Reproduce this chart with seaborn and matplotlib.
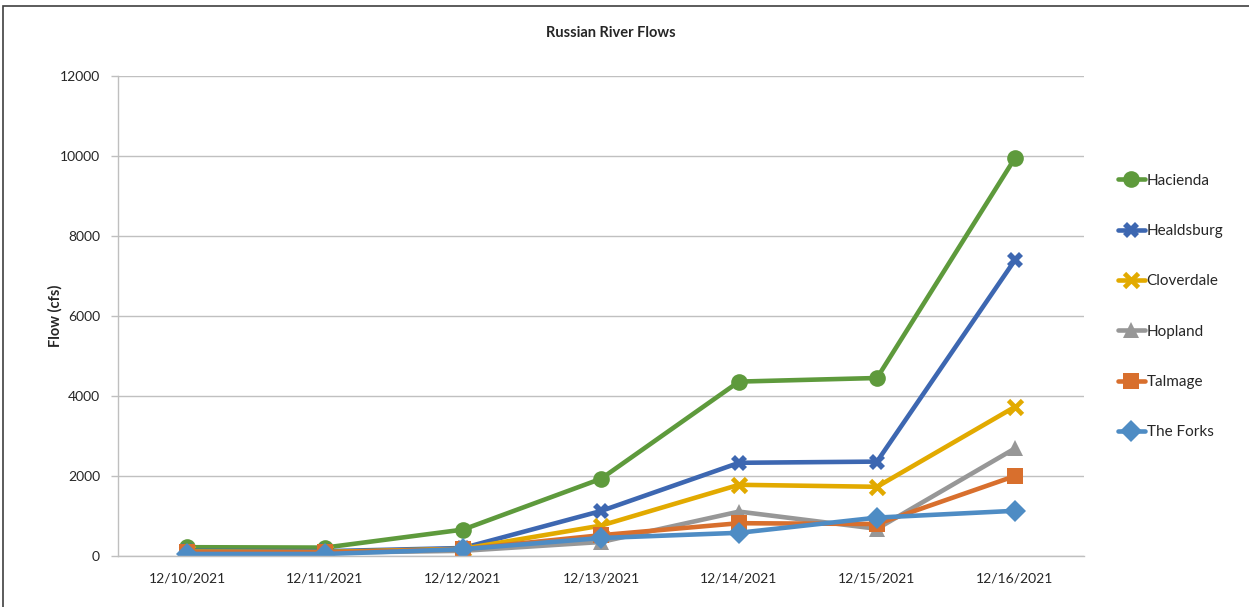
import numpy as np
import pandas as pd
import matplotlib
matplotlib.use("Agg")
import matplotlib.pyplot as plt
import seaborn as sns
from matplotlib.patches import Rectangle
from matplotlib.lines import Line2D

dates = ["12/10/2021", "12/11/2021", "12/12/2021", "12/13/2021",
         "12/14/2021", "12/15/2021", "12/16/2021"]
stations = ["Hacienda", "Healdsburg", "Cloverdale", "Hopland", "Talmage", "The Forks"]

hacienda = [220, 210, 660, 1930, 4360, 4450, 9950]
healdsburg = [130, 120, 200, 1125, 2330, 2360, 7400]
cloverdale = [110, 100, 180, 760, 1780, 1730, 3730]
hopland = [90, 80, 130, 350, 1110, 680, 2690]
talmage = [100, 90, 170, 520, 820, 800, 2000]
the_forks = [50, 50, 170, 450, 580, 960, 1130]

colors = ["#5E9A3C", "#3D67B1", "#E2AA00", "#979797", "#D86F2D", "#4E8CC4"]
markers = ["o", "X", "x", "^", "s", "D"]
msizes = [12, 11, 10, 12, 11, 11]

series = [hacienda, healdsburg, cloverdale, hopland, talmage, the_forks]
df = pd.DataFrame({
    "idx": np.tile(np.arange(len(dates)), len(stations)),
    "station": np.repeat(stations, len(dates)),
    "flow": np.concatenate(series),
})

sns.set_style("white")
plt.rcParams["font.family"] = ["Lato", "DejaVu Sans"]

fig = plt.figure(figsize=(12.49, 6.07), dpi=100)
ax = fig.add_axes([118 / 1249, 1 - 556 / 607, (1084 - 118) / 1249, (556 - 76) / 607])

for name, col, mk, ms in zip(stations, colors, markers, msizes):
    sub = df[df.station == name]
    mew = 3.4 if mk == "x" else 0
    sns.lineplot(data=sub, x="idx", y="flow", ax=ax, color=col, linewidth=3.3,
                 marker=mk, markersize=ms, markeredgewidth=mew,
                 markeredgecolor=col, legend=False)

ax.set_xlim(-0.5, len(dates) - 0.5)
ax.set_ylim(0, 12000)
ax.set_yticks(np.arange(0, 12001, 2000))
ax.set_yticklabels([str(v) for v in range(0, 12001, 2000)], fontsize=10)
ax.set_xticks(np.arange(len(dates)))
ax.set_xticklabels(dates, fontsize=10)
ax.set_xticks(np.arange(-0.5, len(dates) + 0.5, 1), minor=True)
ax.tick_params(axis="x", which="major", length=0, pad=12)
ax.tick_params(axis="x", which="minor", length=5, color="#BFBFBF", width=1)
ax.tick_params(axis="y", length=5, color="#BFBFBF", width=1, pad=8, left=True)
ax.grid(axis="y", color="#C0C0C0", linewidth=1)
ax.set_axisbelow(True)
for s in ["top", "right"]:
    ax.spines[s].set_visible(False)
ax.spines["left"].set_color("#BFBFBF")
ax.spines["bottom"].set_color("#BFBFBF")
ax.spines["left"].set_linewidth(1)
ax.spines["bottom"].set_linewidth(1)
ax.set_xlabel("")
ax.set_ylabel("Flow (cfs)", fontsize=10.5, fontweight="bold", labelpad=-2)

fig.text(611 / 1249, 1 - 33 / 607, "Russian River Flows", ha="center", va="center",
         fontsize=10.5, fontweight="bold")

handles = []
for name, col, mk, ms in zip(stations, colors, markers, msizes):
    mew = 3.4 if mk == "x" else 0
    handles.append(Line2D([0], [0], color=col, linewidth=3.3, marker=mk,
                          markersize=ms, markeredgewidth=mew, markeredgecolor=col))
fig.legend(handles, stations, loc="upper left",
           bbox_to_anchor=(1110 / 1249, 1 - 166 / 607), frameon=False,
           fontsize=11, handlelength=1.8, handletextpad=0.1,
           labelspacing=2.38, borderpad=0)

fig.patches.append(Rectangle((3 / 1249, -0.05), 1.2, 1 - 6 / 607 + 0.05,
                             transform=fig.transFigure, fill=False,
                             edgecolor="#404040", linewidth=1.2))

fig.savefig("out.png", dpi=100, facecolor="white")
